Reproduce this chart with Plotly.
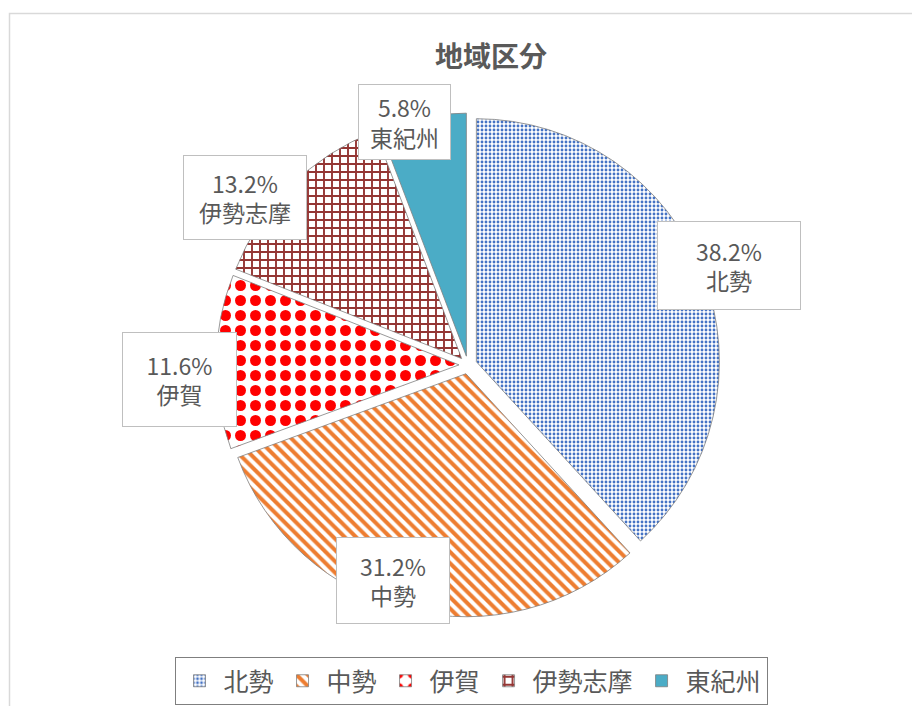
import math
import plotly.graph_objects as go

# ---- data ----
labels = ["北勢", "中勢", "伊賀", "伊勢志摩", "東紀州"]
values = [38.2, 31.2, 11.6, 13.2, 5.8]
title_text = "地域区分"

# ---- style ----
W, H = 920, 706
OFF = 8  # page body margin offset in the browser
FONT = "Noto Sans CJK JP, Noto Sans, sans-serif"
TXT = "#595959"
fg_colors = ["#4472C4", "#ED7D31", "#FF0000", "#943634", "#4BACC6"]
shapes_ = [".", "\\", ".", "+", ""]
sizes_ = [4, 8, 15, 8, 8]
solid_ = [0.4, 0.5, 0.42, 0.42, 1.0]
pull_ = 0.037


def fx(px):
    return (px - OFF) / W


def fy(py):
    return 1 - (py - OFF) / H


# visual pie centre (px, as seen on screen)
cx_px, cy_px, half = 468, 365, 252
R = half / (1 + pull_)
dom_x = [fx(cx_px - half), fx(cx_px + half)]
dom_y = [fy(cy_px + half), fy(cy_px - half)]

# label placement (radius factor, angular nudge in degrees) and box size
lab_factor = [1.149, 0.941, 1.187, 1.149, 1.034]
lab_nudge = [0.3, 5.5, -3.7, -8.4, -4.3]
box_w = [144, 114, 115, 124, 93]
box_h = [89, 87, 95, 85, 76]

fig = go.Figure(go.Pie(
    labels=labels,
    values=values,
    sort=False,
    direction="clockwise",
    rotation=0,
    pull=[pull_] * len(values),
    textinfo="none",
    hoverinfo="skip",
    domain=dict(x=dom_x, y=dom_y),
    marker=dict(
        colors=fg_colors,
        line=dict(color="#7f7f7f", width=0.8),
        pattern=dict(
            shape=shapes_,
            fgcolor=fg_colors,
            bgcolor=["white", "white", "white", "white", fg_colors[4]],
            size=sizes_,
            solidity=solid_,
            fillmode="replace",
        ),
    ),
))

total = sum(values)
annotations = []
cum = 0.0
for i, (lab, v) in enumerate(zip(labels, values)):
    mid = (cum + v / 2) / total * 360.0
    cum += v
    a = math.radians(mid + lab_nudge[i])
    r = lab_factor[i] * R
    px = cx_px + r * math.sin(a)
    py = cy_px - r * math.cos(a)
    annotations.append(dict(
        x=fx(px), y=fy(py), xref="paper", yref="paper",
        xanchor="center", yanchor="middle",
        text=f"{v:.1f}%<br>{lab}",
        showarrow=False,
        font=dict(family=FONT, size=23, color=TXT),
        bgcolor="white", bordercolor="#bfbfbf", borderwidth=1, borderpad=0,
        width=box_w[i] - 2, height=box_h[i] - 2, align="center",
    ))

fig.update_layout(
    width=W, height=H,
    margin=dict(l=0, r=0, t=0, b=0),
    paper_bgcolor="white",
    title=dict(text=f"<b>{title_text}</b>", x=fx(491), xanchor="center",
               y=fy(57), yanchor="middle",
               font=dict(family=FONT, size=28, color=TXT)),
    showlegend=True,
    legend=dict(orientation="h", x=fx(471), xanchor="center",
                y=fy(657), yanchor="top",
                bordercolor="#7f7f7f", borderwidth=1,
                font=dict(family=FONT, size=25, color=TXT),
                itemwidth=38,
                traceorder="normal"),
    annotations=annotations,
    shapes=[dict(type="rect", xref="paper", yref="paper",
                 x0=fx(9.5), x1=1.05, y0=-0.05, y1=fy(13.5),
                 line=dict(color="#d9d9d9", width=1.5), layer="below")],
)

fig.write_html("out.html")
